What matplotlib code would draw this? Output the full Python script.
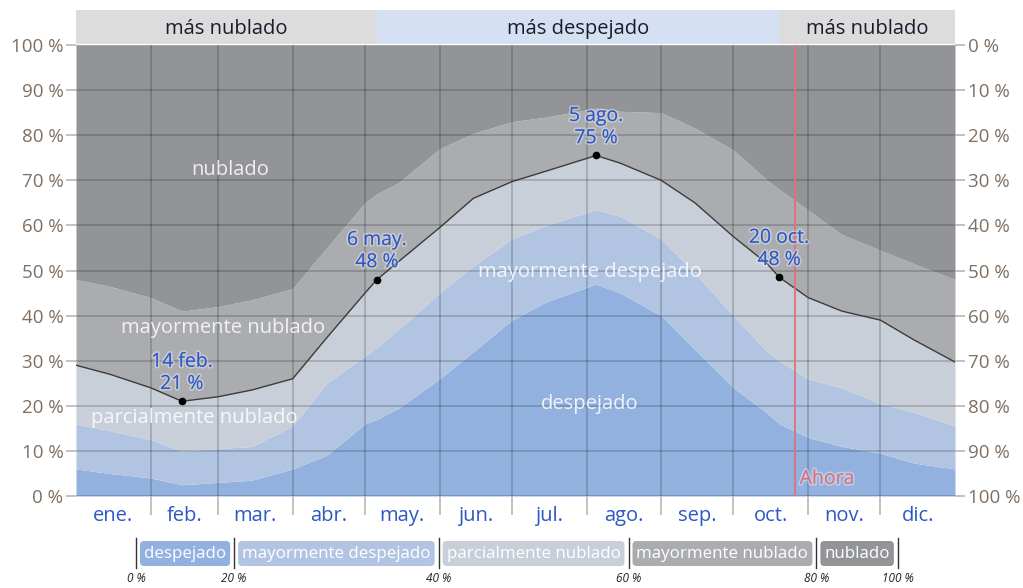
import matplotlib
matplotlib.use('Agg')
import matplotlib.pyplot as plt
import matplotlib.patheffects as pe
from matplotlib.patches import FancyBboxPatch
import numpy as np

plt.rcParams['font.family'] = ['Open Sans', 'DejaVu Sans']

# ---------------- data ----------------
days = [0, 14, 31, 44, 59, 73, 90, 104, 120, 125, 134, 151, 165, 181, 195,
        216, 226, 243, 257, 273, 287, 292, 304, 318, 334, 348, 365]
# cumulative upper boundaries (%) of each cloud-cover class
despejado = [6, 5, 4, 2.5, 3, 3.5, 6, 9, 16, 17, 19.5, 26, 32, 39, 43,
             47, 45, 40, 32.5, 24, 18.4, 16, 13, 11, 9.5, 7.3, 6]
mayormente_despejado = [16, 14.5, 12.5, 10, 10.5, 11, 15.5, 25, 31, 33, 37, 45, 51, 57, 60,
                        63.5, 62, 57, 49.4, 40, 32, 30, 26, 24, 20.5, 18.6, 15.5]
parcialmente_nublado = [29, 27, 24, 21, 22, 23.5, 26, 35, 45, 48, 52, 59.5, 66, 69.7, 72,
                        75.5, 73.8, 70, 65, 57.5, 51.5, 48.5, 44, 41, 39, 34.6, 29.7]
mayormente_nublado = [48, 46.5, 44, 41, 42, 43.5, 46, 55, 65, 67, 69.5, 77, 80.4, 83, 84,
                      86, 85.3, 85, 81.6, 76.7, 70, 68, 63.4, 58, 54.5, 51.5, 48]

month_labels = ['ene.', 'feb.', 'mar.', 'abr.', 'may.', 'jun.',
                'jul.', 'ago.', 'sep.', 'oct.', 'nov.', 'dic.']
month_starts = [0, 31, 59, 90, 120, 151, 181, 212, 243, 273, 304, 334, 365]

annot_days = [44, 125, 216, 292]
annot_values = [21, 48, 75.5, 48.5]
annot_labels = ['14 feb.\n21 %', '6 may.\n48 %', '5 ago.\n75 %', '20 oct.\n48 %']

season_labels = ['más nublado', 'más despejado', 'más nublado']
season_bounds = [0, 125, 292, 365]
now_day = 298.5

class_names = ['despejado', 'mayormente despejado', 'parcialmente nublado',
               'mayormente nublado', 'nublado']
legend_ticks = ['0 %', '20 %', '40 %', '60 %', '80 %', '100 %']

# ---------------- style ----------------
colors = ['#93b1df', '#b1c5e3', '#c9cfd9', '#aaacb0', '#929498']
season_colors = ['#dcdcdd', '#d5e1f3', '#dcdcdd']
grid_alpha = 0.2
tick_c = '#7f6f61'
blue_txt = '#2d57c6'

W, H = 1023, 588
fig = plt.figure(figsize=(W / 100, H / 100), dpi=100)

L, R, T, B = 76, 955, 45, 496
ax = fig.add_axes([L / W, (H - B) / H, (R - L) / W, (B - T) / H])
ax.set_xlim(0, 365)
ax.set_ylim(0, 100)

bounds = [np.zeros(len(days)), np.array(despejado), np.array(mayormente_despejado),
          np.array(parcialmente_nublado), np.array(mayormente_nublado),
          np.full(len(days), 100.0)]
for i in range(5):
    ax.fill_between(days, bounds[i], bounds[i + 1], color=colors[i], lw=0, zorder=1)
ax.plot(days, parcialmente_nublado, color='#3c3c3c', lw=1.0, zorder=3)

for s in ax.spines.values():
    s.set_visible(False)
ax.set_yticks(range(0, 101, 10))
ax.set_yticklabels([f'{v} %' for v in range(0, 101, 10)])
ax.set_xticks(month_starts[1:-1])
ax.set_xticklabels([])
mids = [(month_starts[i] + month_starts[i + 1]) / 2 for i in range(12)]
ax.set_xticks(mids, minor=True)
ax.set_xticklabels(month_labels, minor=True)
ax.grid(True, which='major', color='black', alpha=grid_alpha, lw=1.2, zorder=2)
ax.tick_params(axis='x', which='major', length=14, color=(0.72, 0.72, 0.72), width=1.2)
ax.tick_params(axis='x', which='minor', length=0, pad=7, labelsize=14.5, labelcolor=blue_txt)
ax.tick_params(axis='y', length=7, color=(0.72, 0.72, 0.72), width=1.2, labelsize=13.5,
               labelcolor=tick_c, pad=2)

ax2 = ax.twinx()
ax2.set_ylim(100, 0)
for s in ax2.spines.values():
    s.set_visible(False)
ax2.set_yticks(range(0, 101, 10))
ax2.set_yticklabels([f'{v} %' for v in range(0, 101, 10)])
ax2.tick_params(axis='y', length=7, color=(0.72, 0.72, 0.72), width=1.2, labelsize=13.5,
                labelcolor=tick_c, pad=2)

# region labels
reg_kw = dict(color='white', alpha=0.85, fontsize=14.5, ha='center', va='center', zorder=4)
ax.text(64, 72.3, 'nublado', **reg_kw)
ax.text(61, 37.3, 'mayormente nublado', **reg_kw)
ax.text(49, 17.3, 'parcialmente nublado', **reg_kw)
ax.text(213.5, 49.7, 'mayormente despejado', **reg_kw)
ax.text(213.5, 20.4, 'despejado', **reg_kw)

# annotations
halo = [pe.withStroke(linewidth=2.5, foreground=(1, 1, 1, 0.35))]
for d, v, lab in zip(annot_days, annot_values, annot_labels):
    ax.plot([d], [v], 'o', color='black', ms=4.5, zorder=6)
    ax.annotate(lab, (d, v), xytext=(0, 6), textcoords='offset points',
                ha='center', va='bottom', color=blue_txt, fontsize=14,
                linespacing=1.3, path_effects=halo, zorder=7)

# now line
ax.axvline(now_day, color='#e0707c', lw=1.3, zorder=5)
ax.text(now_day + 2, 3.8, 'Ahora', color='#d8707e', fontsize=14, ha='left',
        va='center', path_effects=halo, zorder=7)

# season band
bax = fig.add_axes([L / W, (H - 44) / H, (R - L) / W, 34 / H])
bax.set_xlim(0, 365)
bax.set_ylim(0, 1)
bax.axis('off')
for i, lab in enumerate(season_labels):
    a, b = season_bounds[i], season_bounds[i + 1]
    bax.axvspan(a, b, color=season_colors[i], lw=0)
    bax.text((a + b) / 2, 0.45, lab, ha='center', va='center', fontsize=14.5, color='#1b1b2b')

# legend
lax = fig.add_axes([0, 0, 1, 1], frameon=False)
lax.set_xlim(0, W)
lax.set_ylim(H, 0)
lax.axis('off')
renderer = fig.canvas.get_renderer()
x = 136
sep_x = [x]
for name, c in zip(class_names, colors):
    bx = x + 4
    t = lax.text(bx + 4, 553.5, name, color='white', fontsize=12.2, ha='left', va='center', zorder=3)
    w = t.get_window_extent(renderer).width
    box = FancyBboxPatch((bx, 541), w + 8, 25, boxstyle='round,pad=0,rounding_size=4',
                         fc=c, ec='none', zorder=2)
    lax.add_patch(box)
    x = bx + w + 8 + 4
    sep_x.append(x)
for sx, lab in zip(sep_x, legend_ticks):
    lax.plot([sx, sx], [538, 568], color='#333333', lw=1)
    lax.text(sx, 579, lab, ha='center', va='center', fontsize=8.5, style='italic', color='#222222')

fig.savefig('out.png', dpi=100)
